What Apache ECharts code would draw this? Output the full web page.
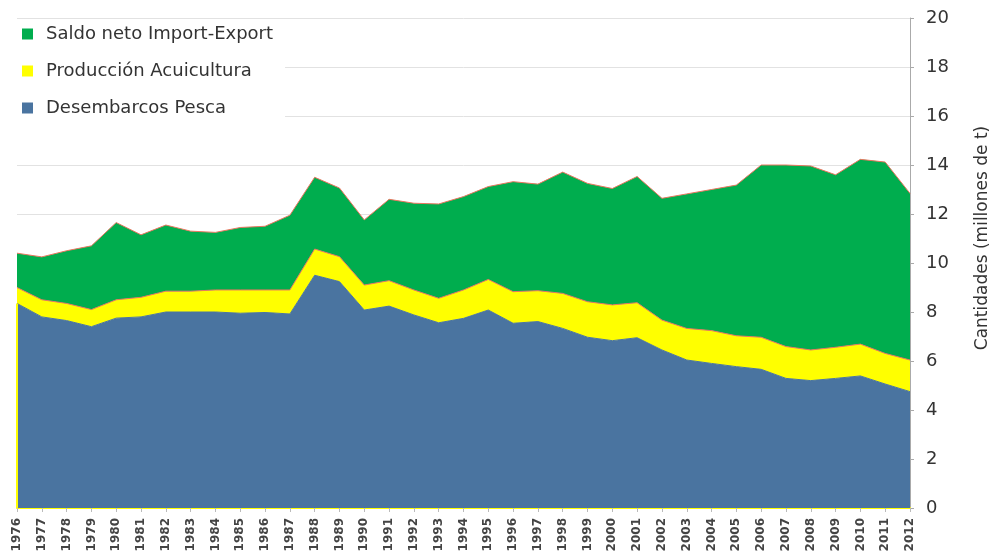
<!DOCTYPE html>
<html>
<head>
<meta charset="utf-8">
<script src="https://cdn.jsdelivr.net/npm/echarts@6/dist/echarts.min.js"></script>
<style>
  html, body { margin: 0; padding: 0; background: #fff; }
  #area_chart { width: 999px; height: 555px; }
</style>
</head>
<body>
<div id="area_chart"></div>
<script>
// 年份
const years = ['1976', '1977', '1978', '1979', '1980', '1981', '1982', '1983', '1984', '1985',
  '1986', '1987', '1988', '1989', '1990', '1991', '1992', '1993', '1994', '1995',
  '1996', '1997', '1998', '1999', '2000', '2001', '2002', '2003', '2004', '2005',
  '2006', '2007', '2008', '2009', '2010', '2011', '2012'];

// Desembarcos Pesca (millones de t)
const pesca = [8.35, 7.80, 7.65, 7.40, 7.75, 7.80, 8.00, 8.00, 8.00, 7.95,
  7.98, 7.92, 9.50, 9.24, 8.08, 8.24, 7.88, 7.56, 7.74, 8.08,
  7.54, 7.61, 7.33, 6.97, 6.83, 6.95, 6.45, 6.04, 5.90, 5.77,
  5.66, 5.29, 5.20, 5.29, 5.39, 5.06, 4.75];

// Producción Acuicultura
const acuicultura = [0.65, 0.70, 0.70, 0.70, 0.75, 0.80, 0.85, 0.85, 0.90, 0.95,
  0.92, 0.98, 1.07, 1.02, 1.02, 1.04, 1.02, 1.00, 1.16, 1.25,
  1.29, 1.26, 1.43, 1.45, 1.46, 1.43, 1.22, 1.29, 1.34, 1.26,
  1.31, 1.30, 1.25, 1.27, 1.30, 1.25, 1.29];

// Saldo neto Import-Export
const saldo = [1.40, 1.75, 2.15, 2.60, 3.15, 2.55, 2.70, 2.45, 2.35, 2.55,
  2.60, 3.05, 2.93, 2.80, 2.66, 3.32, 3.54, 3.85, 3.81, 3.79,
  4.49, 4.35, 4.95, 4.83, 4.75, 5.15, 4.97, 5.49, 5.76, 6.15,
  7.03, 7.41, 7.51, 7.04, 7.54, 7.81, 6.80];

// 纵轴刻度
const yTicks = [0, 2, 4, 6, 8, 10, 12, 14, 16, 18, 20];

const seriesData = [
  { name: 'Desembarcos Pesca', data: pesca, color: '#4a74a0', line: '#4a74a0' },
  { name: 'Producción Acuicultura', data: acuicultura, color: '#ffff00', line: '#e8765f' },
  { name: 'Saldo neto Import-Export', data: saldo, color: '#00ad4e', line: '#e8765f' },
];

const chart = echarts.init(document.getElementById('area_chart'));

let option = {
  animation: false,
  textStyle: { fontFamily: '"DejaVu Sans", sans-serif' },
  legend: {
    orient: 'vertical',
    left: 12,
    top: 19,
    padding: [6, 12, 6, 10],
    backgroundColor: '#fff',
    itemWidth: 11,
    itemHeight: 11,
    itemGap: 19,
    icon: 'rect',
    data: ['Saldo neto Import-Export', 'Producción Acuicultura', 'Desembarcos Pesca'],
    textStyle: { color: '#333', fontSize: 18, padding: [0, 0, 0, 8] },
  },
  grid: { left: 17, right: 87, top: 18, bottom: 47 },
  xAxis: {
    type: 'category',
    boundaryGap: false,
    data: years,
    axisLine: { show: true, lineStyle: { color: '#ffff00', width: 2 } },
    axisTick: { show: true, length: 4, lineStyle: { color: '#bbb' } },
    axisLabel: { rotate: 90, color: '#444', fontSize: 12, fontWeight: 'bold', interval: 0, margin: 10 },
    splitLine: { show: false },
  },
  yAxis: {
    type: 'value',
    position: 'right',
    min: yTicks[0],
    max: yTicks[yTicks.length - 1],
    interval: 2,
    name: 'Cantidades (millones de t)',
    nameLocation: 'middle',
    nameRotate: 90,
    nameGap: 64,
    nameTextStyle: { color: '#333', fontSize: 17, padding: [0, 0, 0, 50] },
    axisLine: { show: true, lineStyle: { color: '#aaa' } },
    axisTick: { show: true, length: 4, lineStyle: { color: '#aaa' } },
    axisLabel: { color: '#333', fontSize: 18, margin: 16 },
    splitLine: { show: true, lineStyle: { color: '#e2e2e2', width: 1 } },
  },
  series: []
};

seriesData.forEach(item => {
  option.series.push({
    name: item.name,
    type: 'line',
    stack: 'total',
    symbol: 'none',
    showSymbol: false,
    color: item.color,
    lineStyle: { color: item.line, width: 1 },
    areaStyle: { color: item.color, opacity: 1 },
    data: item.data,
  });
});

// 蓝色区域左侧黄色边线
option.series[0].markLine = {
  silent: true,
  symbol: 'none',
  label: { show: false },
  lineStyle: { color: '#ffff00', width: 2, type: 'solid' },
  data: [[{ coord: [years[0], 0] }, { coord: [years[0], pesca[0]] }]],
};

chart.setOption(option, true, false);
</script>
</body>
</html>
